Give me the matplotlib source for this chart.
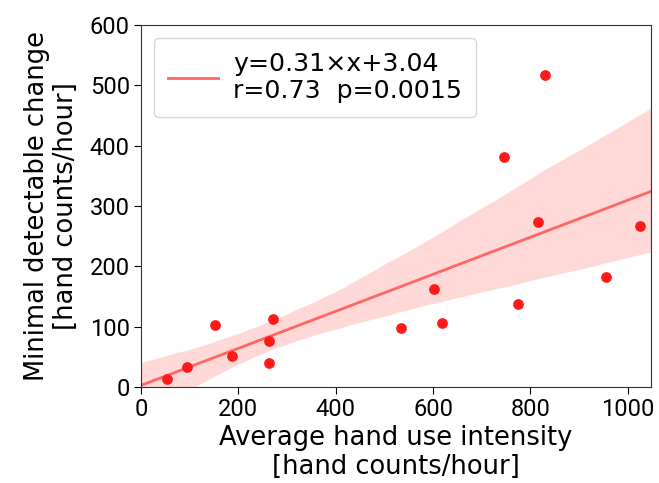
import matplotlib
matplotlib.use('Agg')
import matplotlib.pyplot as plt
import numpy as np

# hand use intensity vs minimal detectable change
intensity = [53, 95, 152, 187, 262, 263, 271, 534, 601, 619, 745, 775, 815, 829, 955, 1026]
mdc = [13, 33, 102, 51, 76, 40, 112, 98, 162, 106, 381, 137, 274, 518, 183, 267]

legend_text = 'y=0.31\u00d7x+3.04\nr=0.73  p=0.0015'
x_ticks = [0, 200, 400, 600, 800, 1000]
y_ticks = [0, 100, 200, 300, 400, 500, 600]

x = np.array(intensity, dtype=float)
y = np.array(mdc, dtype=float)

# least squares fit, bootstrap 95% band (like seaborn regplot)
slope, intercept = np.polyfit(x, y, 1)
xs = np.linspace(0, 1050, 200)
ys = slope * xs + intercept
rng = np.random.default_rng(7)
boots = []
for _ in range(1000):
    idx = rng.integers(0, len(x), len(x))
    b = np.polyfit(x[idx], y[idx], 1)
    boots.append(b[0] * xs + b[1])
lo, hi = np.percentile(np.array(boots), [2.5, 97.5], axis=0)

fig = plt.figure(figsize=(6.59, 4.83), dpi=100)
ax = fig.add_axes([0.214, 0.199, 0.774, 0.749])

ax.fill_between(xs, lo, hi, color='#ffb3b3', alpha=0.5, linewidth=0)
ax.plot(xs, ys, color='#ff6666', linewidth=2, label=legend_text)
ax.scatter(x, y, color='#ff1a1a', s=45, zorder=3)

ax.set_xlim(0, 1048)
ax.set_ylim(0, 600)
ax.set_xticks(x_ticks)
ax.set_yticks(y_ticks)
ax.tick_params(length=5, pad=3)
for lab in ax.get_xticklabels() + ax.get_yticklabels():
    lab.set_family(['Roboto', 'DejaVu Sans'])
    lab.set_fontsize(17)
ax.set_xlabel('Average hand use intensity\n[hand counts/hour]', fontsize=18.5, labelpad=3,
              linespacing=1.15)
ax.set_ylabel('Minimal detectable change\n[hand counts/hour]', fontsize=18.5, labelpad=8,
              linespacing=1.15)
for sp in ax.spines.values():
    sp.set_color('#333333')

ax.legend(loc='upper left', fontsize=18.2, handlelength=2.0, handletextpad=0.6,
          borderpad=0.55, labelspacing=0.1)

plt.savefig('out.png', dpi=100)
